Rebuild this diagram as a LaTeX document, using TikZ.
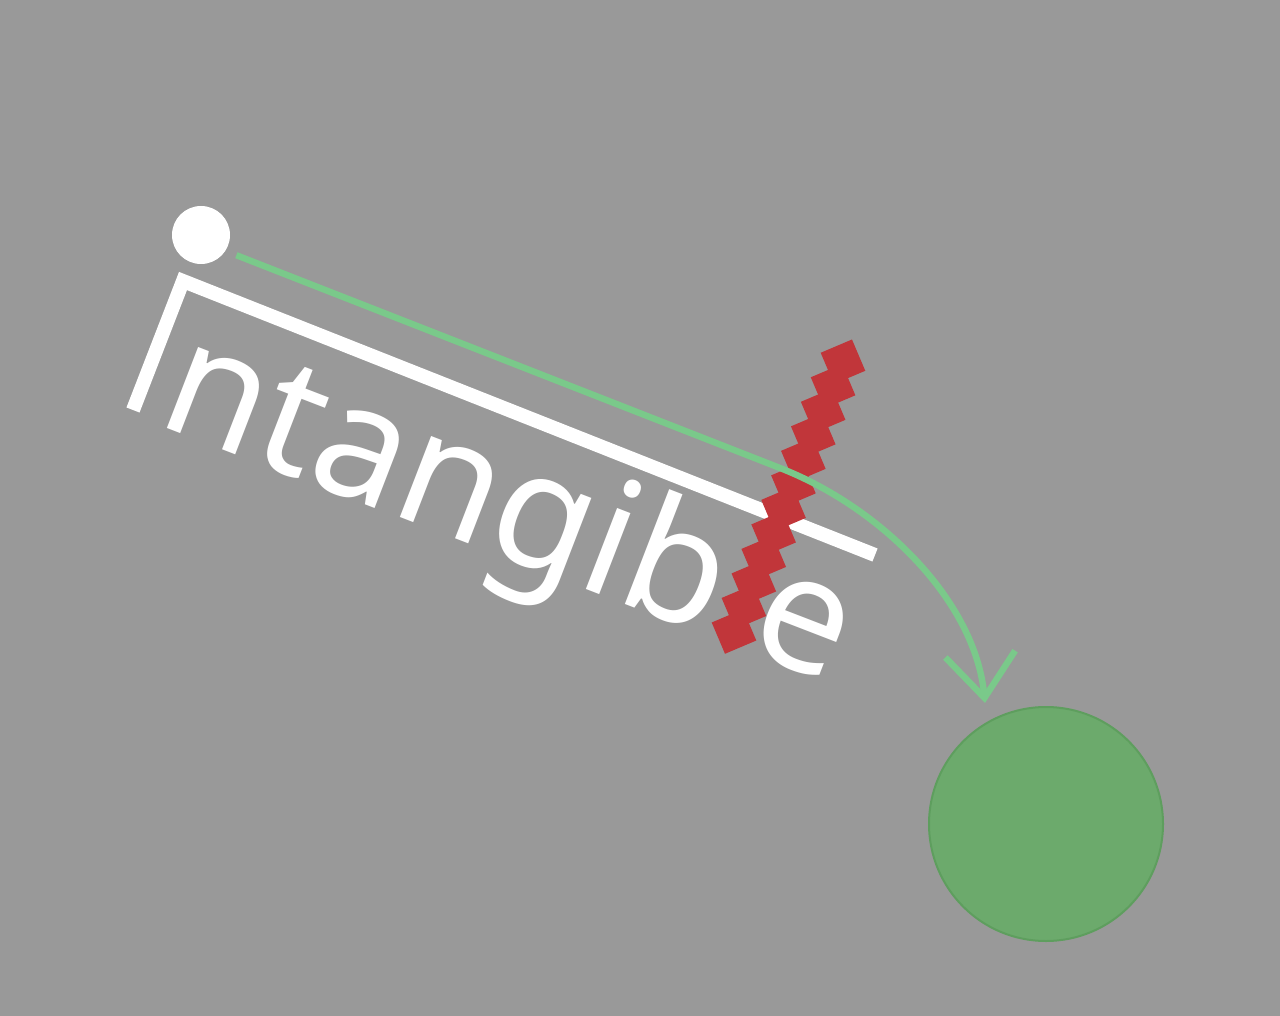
\documentclass[tikz,border=0pt]{standalone}
\usepackage{fontspec}
\setmainfont{Noto Sans}
\usetikzlibrary{arrows.meta}
\definecolor{bg}{RGB}{153,153,153}
\definecolor{leaf}{RGB}{122,201,138}
\definecolor{ball}{RGB}{108,170,108}
\definecolor{ballrim}{RGB}{94,158,94}
\definecolor{brick}{RGB}{193,54,58}
\begin{document}
\begin{tikzpicture}[x=0.5pt,y=-0.5pt,
        word/.style={white,font=\fontsize{81}{81}\selectfont,inner sep=0pt,
                     anchor=base west,rotate=-21.1},
        bar/.style={white,line width=7pt,miter limit=10},
        trail/.style={leaf,line width=3.2pt,
                      -{Straight Barb[length=22pt,width=35pt]}}]
  \fill[bg] (0,0) rectangle (1280,1016);
  \useasboundingbox (0,0) rectangle (1280,1016);
  \node[circle,fill=white,minimum size=29pt,inner sep=0pt] (dot) at (201,235) {};
  \node[word] (word) at (154,423) {ntangib\phantom{l}e};
  \draw[bar] (133,410) -- (183,281) -- (875,555);
  % pixel stroke over the missing l
  \begin{scope}[shift={(734,631.5)},rotate=23]
    \foreach \i in {0,...,11}
      \fill[brick] (\i*18.7-17,-\i*18.7+17) rectangle ++(34,-34);
  \end{scope}
  \node[circle,fill=ball,draw=ballrim,line width=1pt,minimum size=117pt,
        inner sep=0pt] (ball) at (1046,824) {};
  \coordinate (bend) at (780,468);
  \coordinate (tip) at (985,703);
  \draw[trail,shorten <=5.75pt] (dot.-33) -- (bend)
        .. controls (880,507) and (975,600) .. (tip);
\end{tikzpicture}
\end{document}
